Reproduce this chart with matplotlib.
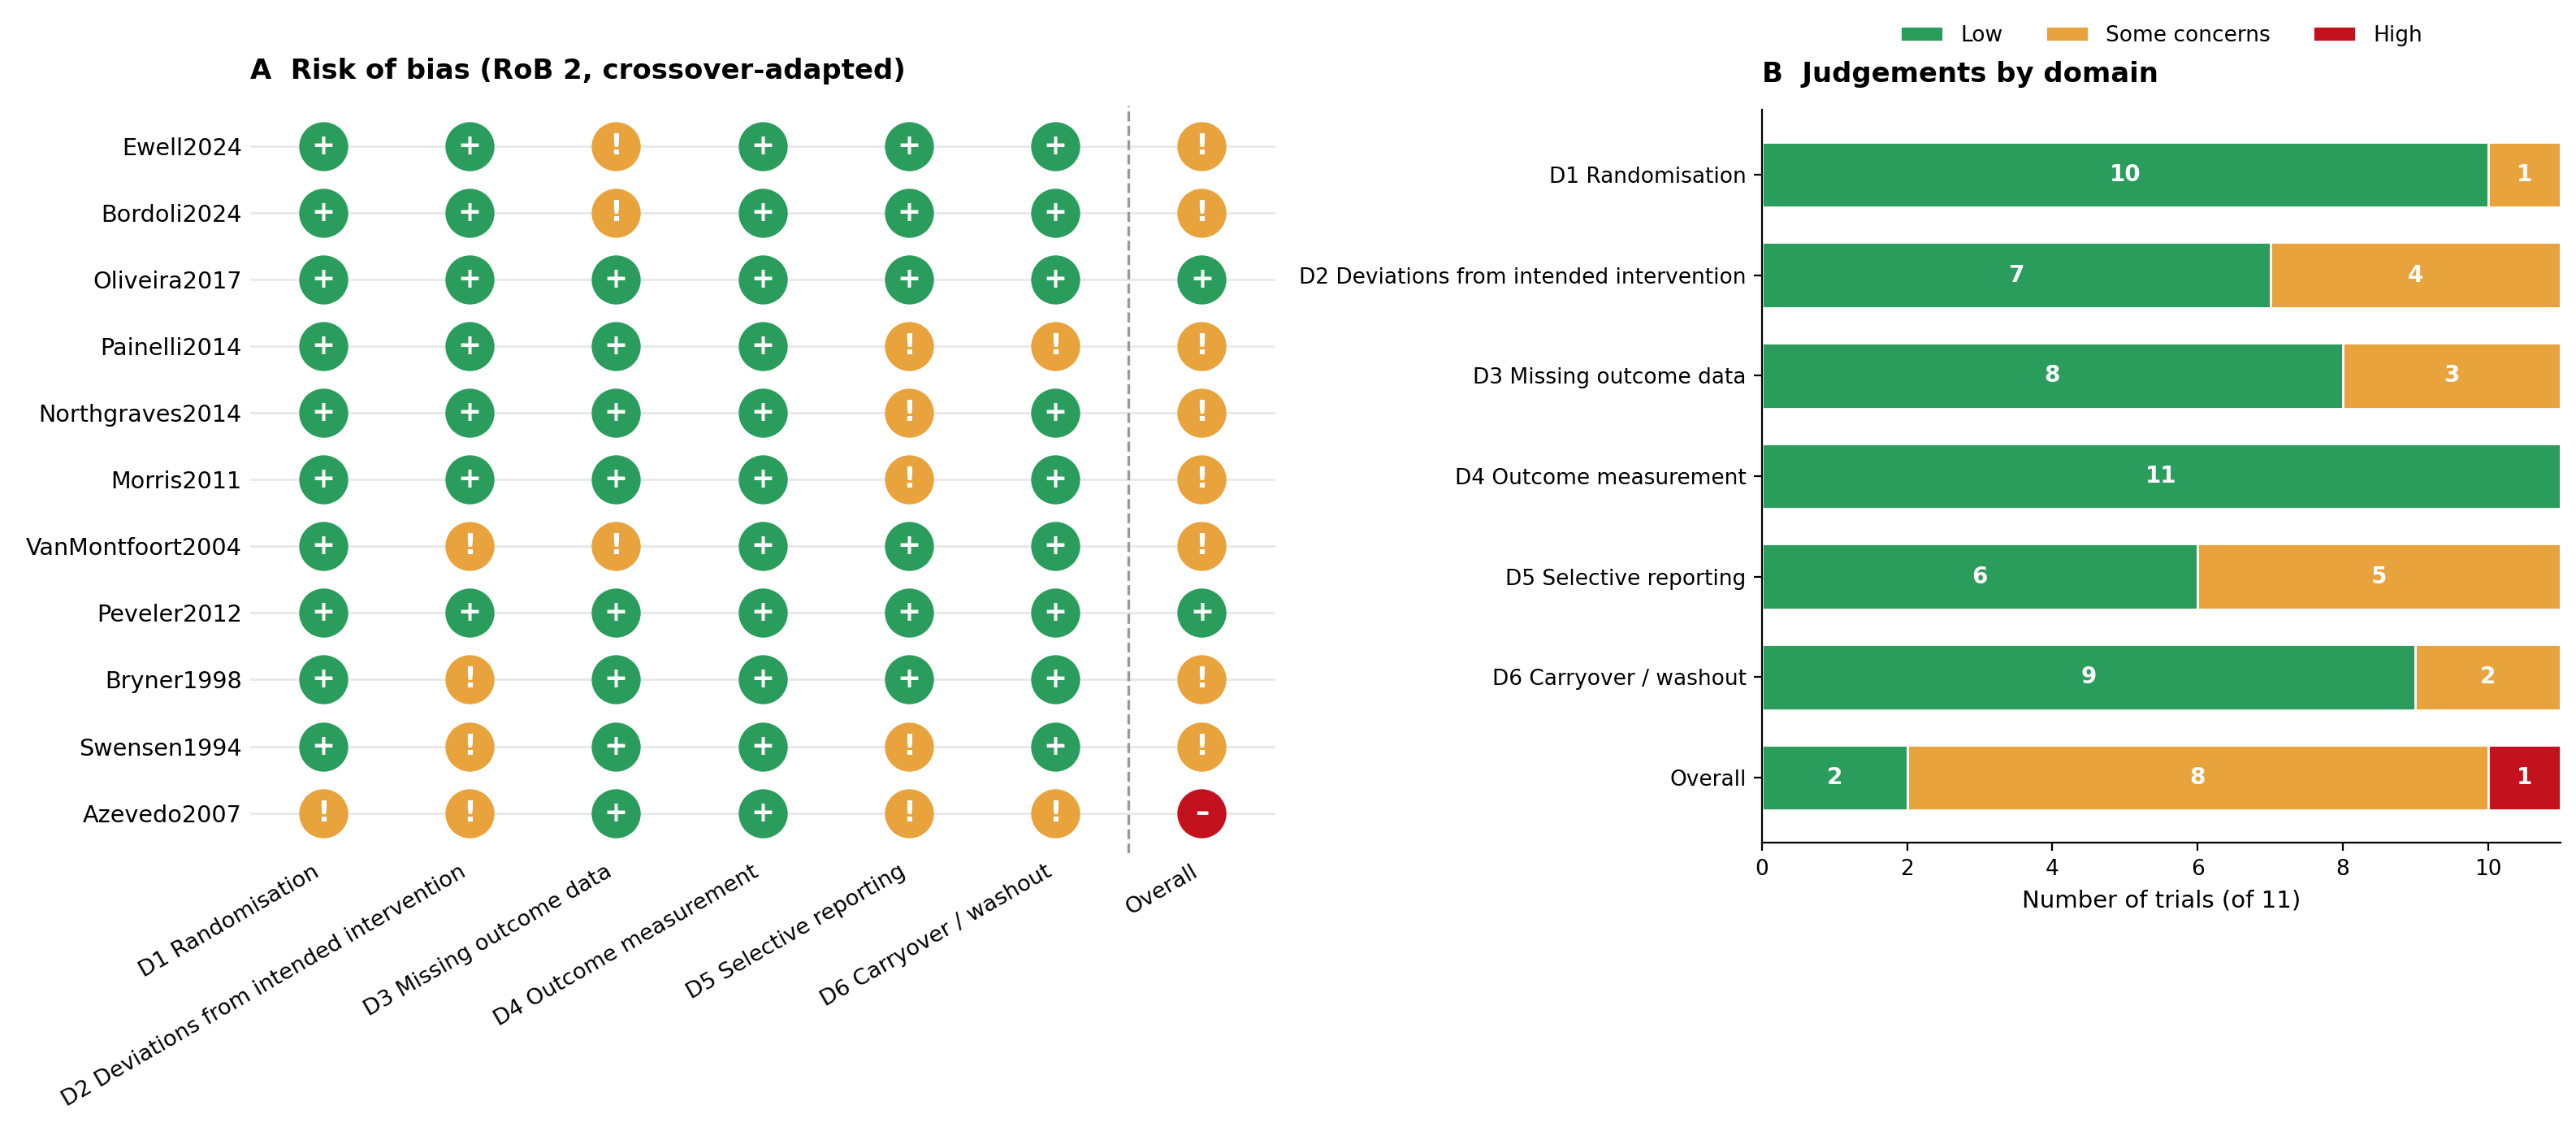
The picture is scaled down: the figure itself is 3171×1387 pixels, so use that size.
import numpy as np
import matplotlib.pyplot as plt

studies = ["Ewell2024", "Bordoli2024", "Oliveira2017", "Painelli2014", "Northgraves2014",
           "Morris2011", "VanMontfoort2004", "Peveler2012", "Bryner1998", "Swensen1994", "Azevedo2007"]
domains = ["D1 Randomisation", "D2 Deviations from intended intervention", "D3 Missing outcome data",
           "D4 Outcome measurement", "D5 Selective reporting", "D6 Carryover / washout", "Overall"]
# L = low, S = some concerns, H = high
judgements = [
    "LLSLLLS",
    "LLSLLLS",
    "LLLLLLL",
    "LLLLSSS",
    "LLLLSLS",
    "LLLLSLS",
    "LSSLLLS",
    "LLLLLLL",
    "LSLLLLS",
    "LSLLSLS",
    "SSLLSSH",
]

colors = {"L": "#2a9d5c", "S": "#e9a33d", "H": "#c3121e"}
symbols = {"L": "+", "S": "!", "H": "–"}
labels = {"L": "Low", "S": "Some concerns", "H": "High"}

fig = plt.figure(figsize=(15.855, 6.935), dpi=200)

# panel A
ax = fig.add_axes([0.097, 0.243, 0.398, 0.663])
for i, row in enumerate(judgements):
    ax.axhline(i, color="#e8e8e8", lw=1, zorder=0)
    for j, k in enumerate(row):
        ax.scatter(j, i, s=430, color=colors[k], zorder=2)
        ax.text(j, i, symbols[k], color="white", ha="center", va="center",
                fontsize=12.5, fontweight="bold", zorder=3)
ax.axvline(5.5, color="#999999", ls="--", lw=1.2)
ax.set_xlim(-0.5, 6.5)
ax.set_ylim(len(studies) - 0.4, -0.6)
ax.set_yticks(range(len(studies)))
ax.set_yticklabels(studies, fontsize=10.3)
ax.set_xticks(range(len(domains)))
ax.set_xticklabels(domains, rotation=30, ha="right", fontsize=9.8)
ax.tick_params(length=0)
for s in ax.spines.values():
    s.set_visible(False)
ax.set_title("A  Risk of bias (RoB 2, crossover-adapted)", loc="left", fontsize=12.2,
             fontweight="bold", pad=12)

# panel B
bx = fig.add_axes([0.684, 0.252, 0.31, 0.651])
n = len(studies)
left = np.zeros(len(domains))
for k in "LSH":
    counts = np.array([sum(r[j] == k for r in judgements) for j in range(len(domains))])
    bx.barh(range(len(domains)), counts, left=left, height=0.65, color=colors[k],
            edgecolor="white", lw=1, label=labels[k])
    for j, c in enumerate(counts):
        if c > 0:
            bx.text(left[j] + c / 2, j, str(c), color="white", ha="center", va="center",
                    fontsize=10, fontweight="bold")
    left += counts
bx.set_yticks(range(len(domains)))
bx.set_yticklabels(domains, fontsize=9.4)
bx.set_ylim(len(domains) - 0.5 + 0.15, -0.5 - 0.15)
bx.set_xlim(0, n)
bx.set_xticks(range(0, 11, 2))
bx.tick_params(labelsize=9.5)
bx.set_xlabel("Number of trials (of 11)", fontsize=10.5)
bx.spines["top"].set_visible(False)
bx.spines["right"].set_visible(False)
bx.set_title("B  Judgements by domain", loc="left", fontsize=12.2, fontweight="bold", pad=12)
bx.legend(loc="lower center", bbox_to_anchor=(0.5, 1.06), ncol=3, frameon=False, fontsize=9.5)

fig.savefig("out.png", dpi=200)
